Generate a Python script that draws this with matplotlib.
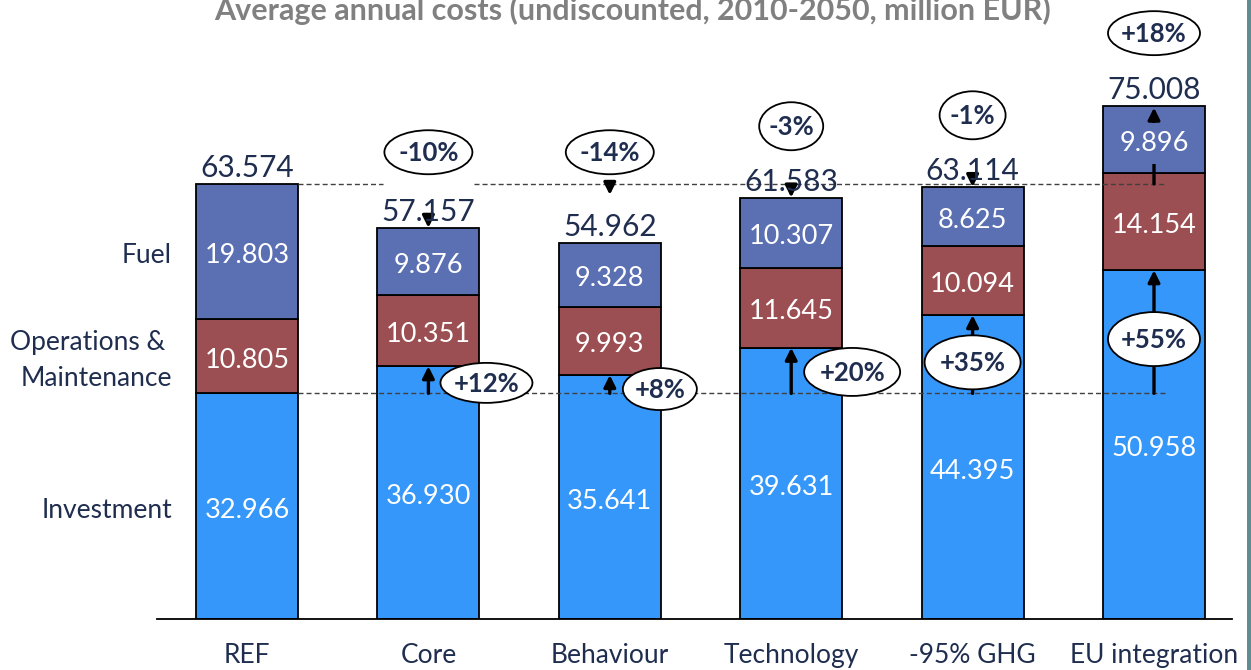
import numpy as np
import matplotlib.pyplot as plt
from matplotlib.patches import Ellipse, Rectangle

scenarios = ['REF', 'Core', 'Behaviour', 'Technology', '-95% GHG', 'EU integration']
investment = [32.966, 36.930, 35.641, 39.631, 44.395, 50.958]
om_costs = [10.805, 10.351, 9.993, 11.645, 10.094, 14.154]
fuel = [19.803, 9.876, 9.328, 10.307, 8.625, 9.896]
cost_labels = ['Investment', 'Operations & \nMaintenance', 'Fuel']

# layout
PX_X = 181.4   # pixels per scenario step
PX_Y = 6.844   # pixels per million EUR
BAR_W = 0.562
TXT = '#1f2d4f'
C_INV, C_OM, C_FUEL = '#3597fa', '#9c4f52', '#5b6fb3'

# change badges: (x offset from bar centre, y centre, width px, height px)
total_badges = [None, (0, 68.2, 88, 44), (0, 68.2, 88, 44), (0, 72.0, 64, 48),
                (0, 73.6, 66, 48), (0, 85.6, 92, 44)]
inv_badges = [None, (0.32, 34.5, 92, 40), (0.276, 33.6, 74, 42), (0.336, 36.1, 96, 48),
              (0.0, 37.5, 96, 54), (0.0, 40.9, 92, 54)]

plt.rcParams['font.family'] = ['Lato', 'DejaVu Sans']

fig = plt.figure(figsize=(12.51, 6.70), dpi=100)
ax = fig.add_axes([157 / 1251, 51 / 670, 1075 / 1251, 616 / 670])
ax.set_xlim(-90 / PX_X, 5 + 78 / PX_X)
ax.set_ylim(0, 616 / PX_Y)

x = np.arange(len(scenarios))
inv = np.array(investment)
om = np.array(om_costs)
fu = np.array(fuel)
total = inv + om + fu
ref_total, ref_inv = total[0], inv[0]
nudge = 4 / PX_Y  # text centres sit a little low in the boxes

for vals, bottom, col in [(inv, np.zeros_like(inv), C_INV), (om, inv, C_OM), (fu, inv + om, C_FUEL)]:
    ax.bar(x, vals, BAR_W, bottom=bottom, color=col, edgecolor='black',
           linewidth=1.3, zorder=2)
    for xi, v, b in zip(x, vals, bottom):
        t = ax.text(xi, b + v / 2 - nudge, f'{v:.3f}', ha='center', va='center',
                    color='white', fontsize=19.5, zorder=6)
# fuel label on the last bar hides the shaft of the total arrow
t.set_bbox(dict(facecolor=C_FUEL, edgecolor='none', pad=6))

for xi, v in zip(x, total):
    ax.text(xi, v + 7 / PX_Y, f'{v:.3f}', ha='center', va='baseline', fontsize=21.5,
            color=TXT, zorder=5)

# reference levels
dash = (0, (3.6, 2.2))
ax.hlines(ref_total, BAR_W / 2, 0.75, colors='#404040', lw=1, linestyles=[dash], zorder=3)
ax.hlines(ref_total, 1.25, 5 + 0.06, colors='#404040', lw=1, linestyles=[dash], zorder=3)
ax.hlines(ref_inv, BAR_W / 2, 5 + 0.06, colors='#404040', lw=1, linestyles=[dash], zorder=3)

arrow = dict(arrowstyle='-|>,head_length=0.5,head_width=0.25', color='black', lw=2.4,
             shrinkA=0, shrinkB=0, mutation_scale=14)
head = 11 / PX_Y


def draw_arrow(xi, y0, y1):
    ax.annotate('', xy=(xi, y1), xytext=(xi, y0), arrowprops=arrow, zorder=4)


for i in range(1, len(scenarios)):
    v = total[i]
    label_top = v + 32 / PX_Y
    if v > ref_total:
        draw_arrow(x[i], ref_total, v - 2 / PX_Y)
    elif label_top < ref_total - 2 * head:
        draw_arrow(x[i], ref_total, ref_total - head)
    else:
        draw_arrow(x[i], v + head, v)
    draw_arrow(x[i], ref_inv, inv[i])


def badge(xc, yc, w, h, text):
    ax.add_patch(Ellipse((xc, yc), w / PX_X, h / PX_Y, facecolor='white',
                         edgecolor='black', lw=1.3, zorder=7))
    ax.text(xc, yc - 1 / PX_Y, text, ha='center', va='center', fontsize=18.5,
            fontweight='bold', color=TXT, zorder=8)


for i in range(1, len(scenarios)):
    dx, yc, w, h = total_badges[i]
    badge(x[i] + dx, yc, w, h, f'{(total[i] / ref_total - 1) * 100:+.0f}%')
    dx, yc, w, h = inv_badges[i]
    badge(x[i] + dx, yc, w, h, f'{(inv[i] / ref_inv - 1) * 100:+.0f}%')

# cost type names beside the REF bar
ref_mid = [inv[0] / 2, inv[0] + om[0] / 2, inv[0] + om[0] + fu[0] / 2]
for lab, ym in zip(cost_labels, ref_mid):
    ax.text(-BAR_W / 2 - 24 / PX_X, ym - nudge, lab, ha='right', va='center', fontsize=19,
            color=TXT, multialignment='right', linespacing=1.55)

ax.set_xticks(x, scenarios)
ax.set_yticks([])
ax.tick_params(axis='x', length=0, pad=17, labelsize=19, labelcolor=TXT)
for side in ['left', 'top', 'right']:
    ax.spines[side].set_visible(False)
ax.spines['bottom'].set_linewidth(1.3)
ax.patch.set_visible(False)

fig.text(633 / 1251, 1 - 20 / 670,
         'Average annual costs (undiscounted, 2010-2050, million EUR)',
         ha='center', va='baseline', fontsize=22, fontweight='bold', color='#808080')

fig.add_artist(Rectangle((1247 / 1251, 0), 4 / 1251, 1, transform=fig.transFigure,
                         facecolor='#5e8c90', edgecolor='none'))

fig.savefig('out.png', dpi=100)
